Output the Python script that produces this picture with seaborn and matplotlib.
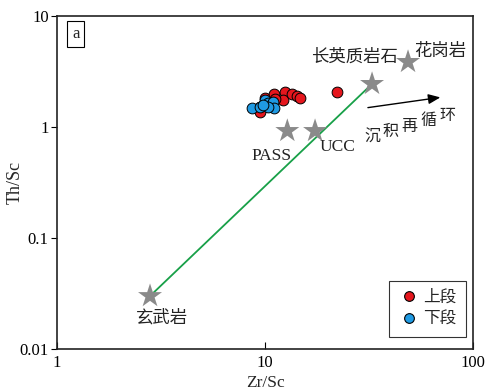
import numpy as np
import pandas as pd
import matplotlib
matplotlib.use("Agg")
import matplotlib.pyplot as plt
import seaborn as sns
from matplotlib.lines import Line2D

sns.set_theme(style="ticks")
plt.rcParams['font.family'] = ['Liberation Serif', 'Noto Sans CJK SC']

# Sample data: Zr/Sc and Th/Sc ratios
upper_zr_sc = [10.0, 11.08, 12.48, 12.24, 13.44, 14.2, 14.73, 11.17, 9.46, 9.46, 22.1]
upper_th_sc = [1.84, 1.97, 2.05, 1.75, 1.97, 1.91, 1.84, 1.79, 1.52, 1.37, 2.05]
lower_zr_sc = [8.63, 9.46, 10.0, 10.37, 10.96, 11.08, 10.37, 9.82]
lower_th_sc = [1.47, 1.52, 1.75, 1.64, 1.69, 1.47, 1.52, 1.56]
group_names = ["上段", "下段"]

# Reference compositions
ref_names = ["玄武岩", "PASS", "UCC", "长英质岩石", "花岗岩"]
ref_zr_sc = [2.8, 12.8, 17.4, 32.7, 48.7]
ref_th_sc = [0.030, 0.92, 0.92, 2.44, 3.85]

# Mixing line basalt -> felsic rocks
mix_zr_sc = [2.8, 32.7]
mix_th_sc = [0.030, 2.44]

# Sedimentary recycling arrow and its stepped caption
arrow_start = (30.3, 1.48)
arrow_end = (71.8, 1.86)
recycle_chars = ["沉", "积", "再", "循", "环"]
recycle_x = [32.7, 40.3, 49.3, 60.8, 75.0]
recycle_y = [0.80, 0.895, 1.0, 1.13, 1.26]

samples = pd.DataFrame({
    "Zr/Sc": upper_zr_sc + lower_zr_sc,
    "Th/Sc": upper_th_sc + lower_th_sc,
    "group": [group_names[0]] * len(upper_zr_sc) + [group_names[1]] * len(lower_zr_sc),
})
refs = pd.DataFrame({"Zr/Sc": ref_zr_sc, "Th/Sc": ref_th_sc, "name": ref_names})
mix = pd.DataFrame({"Zr/Sc": mix_zr_sc, "Th/Sc": mix_th_sc})

palette = {group_names[0]: "#e5161d", group_names[1]: "#1f9ae3"}

fig = plt.figure(figsize=(4.86, 3.91), dpi=100)
ax = fig.add_axes([0.1173, 0.1074, 0.856, 0.852])
ax.set_xscale("log")
ax.set_yscale("log")

sns.lineplot(data=mix, x="Zr/Sc", y="Th/Sc", ax=ax, color="#18a048", lw=1.3, zorder=1)
sns.scatterplot(data=refs, x="Zr/Sc", y="Th/Sc", ax=ax, marker="*", s=330,
                color="#8a8a8a", edgecolor="none", zorder=2, legend=False)
for grp in [group_names[0], group_names[1]]:
    sub = samples[samples["group"] == grp]
    sns.scatterplot(data=sub, x="Zr/Sc", y="Th/Sc", ax=ax, color=palette[grp],
                    edgecolor="black", linewidth=0.7, s=60, zorder=3, legend=False)

ax.set_xlim(1, 100)
ax.set_ylim(0.01, 10)
ax.set_xticks([1, 10, 100])
ax.set_xticklabels(["1", "10", "100"])
ax.set_yticks([0.01, 0.1, 1, 10])
ax.set_yticklabels(["0.01", "0.1", "1", "10"])
ax.minorticks_off()
ax.tick_params(axis="x", direction="in", length=5, width=0.8, labelsize=12, pad=4, colors="black")
ax.tick_params(axis="y", direction="out", length=4, width=0.8, labelsize=12, pad=2, colors="black")
for sp in ax.spines.values():
    sp.set_visible(True)
    sp.set_linewidth(1.2)
    sp.set_color("#222222")
ax.set_xlabel("Zr/Sc", fontsize=12.5)
ax.set_ylabel("Th/Sc", fontsize=13)
ax.xaxis.set_label_coords(0.5, -0.077)
ax.yaxis.set_label_coords(-0.08, 0.5)

# Reference labels
label_kw = dict(fontsize=12.5, color="#222222")
ax.text(3.2, 0.019, ref_names[0], ha="center", va="center", **label_kw)
ax.text(10.8, 0.55, ref_names[1], ha="center", va="center", **label_kw)
ax.text(22.4, 0.66, ref_names[2], ha="center", va="center", **label_kw)
ax.text(26.8, 4.2, ref_names[3], ha="center", va="center", **label_kw)
ax.text(69.4, 4.75, ref_names[4], ha="center", va="center", **label_kw)

# Sedimentary recycling annotation
ax.annotate("", xy=arrow_end, xytext=arrow_start,
            arrowprops=dict(arrowstyle="-|>,head_length=0.6,head_width=0.25",
                            color="black", lw=1.0))
for ch, cx, cy in zip(recycle_chars, recycle_x, recycle_y):
    ax.text(cx, cy, ch, ha="center", va="center", fontsize=11.5, color="#222222")

# Panel label
ax.text(0.045, 0.945, "a", transform=ax.transAxes, ha="center", va="center",
        fontsize=12, bbox=dict(boxstyle="square,pad=0.3", fc="white", ec="black", lw=0.8))

handles = [Line2D([], [], marker="o", ls="none", markerfacecolor=palette[g],
                  markeredgecolor="black", markeredgewidth=0.8, markersize=7)
           for g in group_names]
leg = ax.legend(handles, group_names, loc="lower right", bbox_to_anchor=(0.983, 0.036),
                borderaxespad=0, frameon=True, fancybox=False, fontsize=12,
                handletextpad=0.3, borderpad=0.55, labelspacing=0.35, handlelength=1.2)
leg.get_frame().set_edgecolor("black")
leg.get_frame().set_linewidth(0.8)

fig.savefig("out.png", dpi=100)
